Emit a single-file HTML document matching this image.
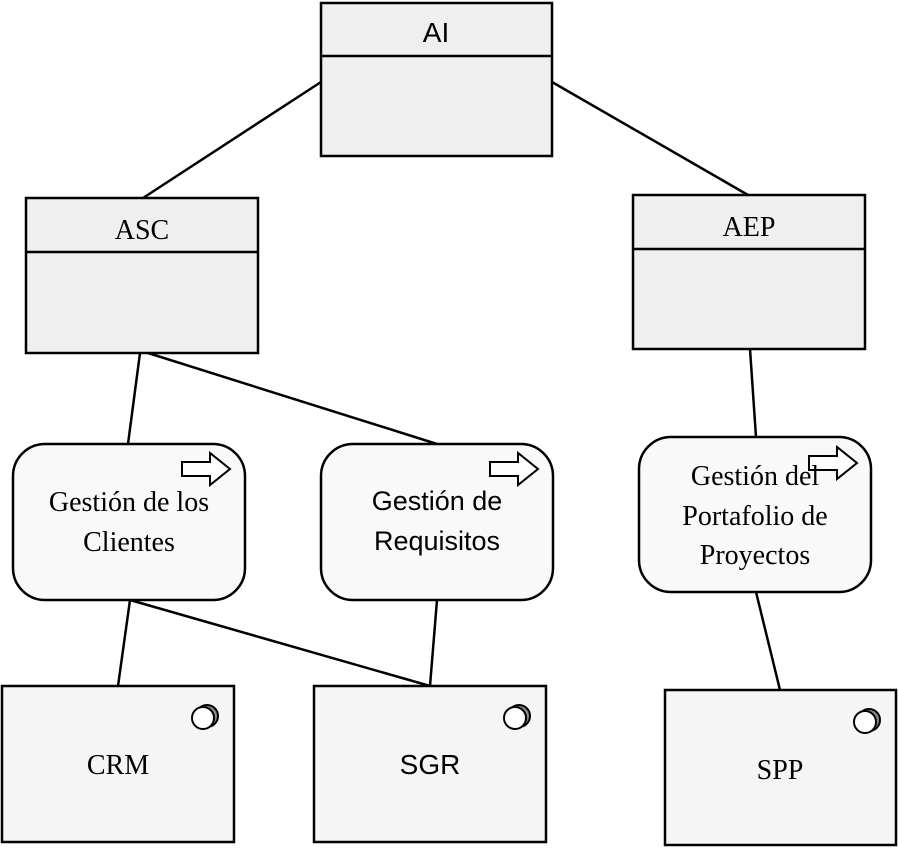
<!DOCTYPE html>
<html><head><meta charset="utf-8"><style>
html,body{margin:0;padding:0;background:#fff;}
svg{display:block;}
.s{font-family:"Liberation Sans",sans-serif;}
.r{font-family:"Liberation Serif",serif;}
</style></head><body>
<svg width="898" height="848" viewBox="0 0 898 848" xmlns="http://www.w3.org/2000/svg">
<g stroke="#000" stroke-width="2.5" fill="none">
<line x1="321" y1="82" x2="143" y2="198"/>
<line x1="552" y1="82" x2="748" y2="195"/>
<line x1="140" y1="353" x2="128" y2="444"/>
<line x1="148" y1="353" x2="437" y2="444"/>
<line x1="750" y1="349" x2="756" y2="437"/>
<line x1="130" y1="600" x2="118" y2="686"/>
<line x1="130" y1="600" x2="430" y2="686"/>
<line x1="437" y1="600" x2="430" y2="686"/>
<line x1="756" y1="592" x2="780" y2="690"/>
</g>
<g stroke="#000" stroke-width="2.5" fill="#efefef">
<rect x="321" y="3" width="231" height="153"/><line x1="321" y1="56" x2="552" y2="56"/>
<rect x="26" y="198" width="232" height="155"/><line x1="26" y1="252" x2="258" y2="252"/>
<rect x="633" y="195" width="232" height="154"/><line x1="633" y1="249" x2="865" y2="249"/>
</g>
<g stroke="#000" stroke-width="2.5" fill="#f9f9f9">
<rect x="13" y="444" width="232" height="156" rx="32"/>
<rect x="321" y="444" width="232" height="156" rx="32"/>
<rect x="639" y="437" width="232" height="155" rx="32"/>
</g>
<g stroke="#000" stroke-width="2.5" fill="#f5f5f5">
<rect x="2" y="686" width="232" height="156"/>
<rect x="314" y="686" width="232" height="156"/>
<rect x="665" y="690" width="231" height="155"/>
</g>
<!-- arrows -->
<g stroke="#000" stroke-width="2" fill="#fff">
<path d="M182,462 h28 v-9 l20,16 -20,16 v-9 h-28 z"/>
<path d="M490,462 h28 v-9 l20,16 -20,16 v-9 h-28 z"/>
<path d="M809,456 h28 v-9 l20,16 -20,16 v-9 h-28 z"/>
</g>
<!-- component circles -->
<g stroke="#000" stroke-width="2">
<circle cx="207" cy="716" r="11" fill="#888"/><circle cx="203" cy="718" r="11" fill="#fff"/>
<circle cx="519" cy="716" r="11" fill="#888"/><circle cx="515" cy="718" r="11" fill="#fff"/>
<circle cx="869" cy="720" r="11" fill="#888"/><circle cx="865" cy="722" r="11" fill="#fff"/>
</g>
<g text-anchor="middle" fill="#000">
<text class="s" x="436" y="42" font-size="28">AI</text>
<text class="r" x="142" y="239" font-size="28">ASC</text>
<text class="r" x="749" y="236" font-size="28">AEP</text>
<text class="r" x="129" y="511" font-size="28">Gestión de los</text>
<text class="r" x="129" y="551" font-size="28">Clientes</text>
<text class="s" x="437" y="510" font-size="27">Gestión de</text>
<text class="s" x="437" y="550" font-size="27">Requisitos</text>
<text class="r" x="755" y="485" font-size="28">Gestión del</text>
<text class="r" x="755" y="525" font-size="28">Portafolio de</text>
<text class="r" x="755" y="564" font-size="28">Proyectos</text>
<text class="r" x="118" y="774" font-size="28">CRM</text>
<text class="s" x="430" y="774" font-size="28">SGR</text>
<text class="r" x="780" y="779" font-size="28">SPP</text>
</g>
</svg>
</body></html>
